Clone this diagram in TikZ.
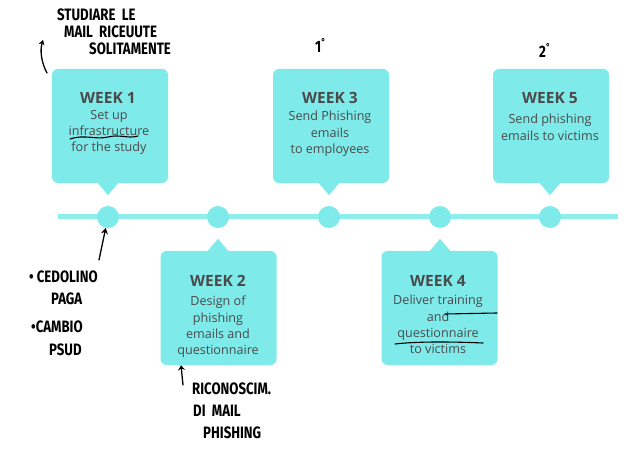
\documentclass[tikz,border=0pt]{standalone}
\usepackage{fontspec}
\setmainfont{Open Sans}
\newfontfamily\handfont[FakeStretch=0.8]{Fira Sans}
\usetikzlibrary{arrows.meta}
\definecolor{boxcyan}{HTML}{7FEAEA}
\definecolor{linecyan}{HTML}{8EEDED}
\definecolor{txtgray}{HTML}{4A4A4A}
\tikzset{
  weekbox/.style={fill=boxcyan, rounded corners=6pt, minimum width=116pt, minimum height=114pt, inner sep=0pt},
  dotnode/.style={circle, fill=boxcyan, minimum size=22pt, inner sep=0pt},
  title/.style={font=\fontsize{15.5}{17}\selectfont\bfseries, text=txtgray, anchor=center, inner sep=0pt},
  body/.style={font=\fontsize{12.6}{16.3}\selectfont, text=txtgray, align=center, anchor=north, inner sep=0pt},
  hand/.style={font=\handfont\bfseries\fontsize{16.5}{18}\selectfont, text=black, inner sep=0pt, anchor=west},
  pen/.style={draw=black, line width=1.3pt, line cap=round, line join=round},
}
\begin{document}
\begin{tikzpicture}[x=1pt,y=-1pt]
\useasboundingbox (0,0) rectangle (640,449);
\fill[white] (0,0) rectangle (640,449);
% timeline
\coordinate (tl) at (58,217);
\coordinate (tr) at (618,217);
\draw[linecyan, line width=5pt] (tl) -- (tr);
\node[dotnode] (d1) at (108,217) {};
\node[dotnode] (d2) at (218,217) {};
\node[dotnode] (d3) at (329,217) {};
\node[dotnode] (d4) at (440,217) {};
\node[dotnode] (d5) at (550,217) {};
% boxes
\node[weekbox] (w1) at (110,126) {};
\node[weekbox] (w3) at (331,126) {};
\node[weekbox] (w5) at (551,126) {};
\node[weekbox] (w2) at (218.5,308) {};
\node[weekbox] (w4) at (439.5,308) {};
% pointers
\foreach \b/\x in {w1/108,w3/329,w5/550}{
  \fill[boxcyan] ([xshift=-11pt]\b.south -| \x,0) ++(0,-1) -- ++(22,0) -- ++(-11,13) -- cycle;
}
\foreach \b/\x in {w2/218,w4/440}{
  \fill[boxcyan] ([xshift=-11pt]\b.north -| \x,0) ++(0,1) -- ++(22,0) -- ++(-11,-13) -- cycle;
}
% texts
\node[title] (t1) at (108,98) {WEEK 1};
\node[body] (b1) at (109,110) {Set up\\infrastructure\\for the study};
\node[title] (t3) at (330,98) {WEEK 3};
\node[body] (b3) at (330,111) {Send Phishing\\emails\\to employees};
\node[title] (t5) at (550,98) {WEEK 5};
\node[body] (b5) at (550,114) {Send phishing\\emails to victims};
\node[title] (t2) at (218,281) {WEEK 2};
\node[body] (b2) at (218,296) {Design of\\phishing\\emails and\\questionnaire};
\node[title] (t4) at (438,281) {WEEK 4};
\node[body] (b4) at (438,295) {Deliver training\\and\\questionnaire\\to victims};
% handwritten notes
\node[hand] (n1a) at (57,15) {STUDIARE\ \ LE};
\node[hand] (n1b) at (64,31.5) {MAIL\ \ RICEUUTE};
\node[hand] (n1c) at (89,48.5) {SOLITAMENTE};
\node[hand] (o1) at (315,45) {1\raisebox{7pt}{\fontsize{10}{10}\selectfont°}};
\node[hand] (o2) at (539,50) {2\raisebox{7pt}{\fontsize{10}{10}\selectfont°}};
\node[hand] (n2a) at (29,277) {\textbullet\ CEDOLINO};
\node[hand] (n2b) at (51,299) {PAGA};
\node[hand] (n2c) at (31,327) {\textbullet CAMBIO};
\node[hand] (n2d) at (49,350) {PSUD};
\node[hand] (n3a) at (192,389) {RICONOSCIM.};
\node[hand] (n3b) at (193,411) {DI\ \ MAIL};
\node[hand] (n3c) at (203,433) {PHISHING};
% pen strokes
\coordinate (a1s) at (47,73);
\coordinate (a1e) at (43,40);
\draw[pen, -{Stealth[length=5pt,width=6pt]}] (a1s) .. controls (41,62) and (40,50) .. (a1e);
\coordinate (a2s) at (99,260);
\draw[pen, -{Stealth[length=6pt,width=7pt]}] (a2s) -- (d1);
\coordinate (a3s) at (183,385);
\draw[pen, -{Stealth[length=5pt,width=7pt]}] (a3s) -- (w2.south -| 181,0);
\coordinate (u1s) at (70,139);
\coordinate (u1e) at (138,136);
\draw[pen, line width=1.1pt] (u1s) .. controls (85,134) and (95,140) .. (108,137) .. controls (120,134) and (128,139) .. (u1e);
\coordinate (u2s) at (445,314);
\coordinate (u2e) at (497,313);
\draw[pen, line width=1.1pt] (u2s) -- (u2e);
\coordinate (u3s) at (395,344);
\coordinate (u3e) at (483,343);
\draw[pen, line width=1.1pt] (u3s) .. controls (420,341) and (460,342) .. (u3e);
\end{tikzpicture}
\end{document}
